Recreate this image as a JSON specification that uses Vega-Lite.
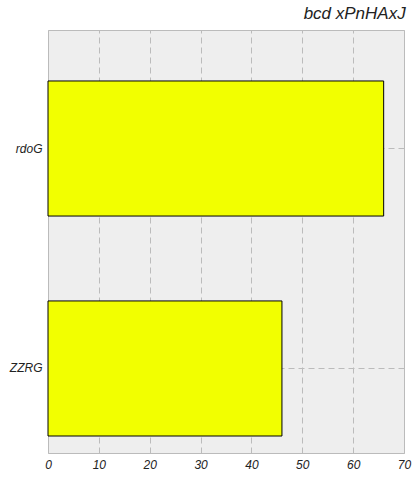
{
  "$schema": "https://vega.github.io/schema/vega-lite/v6.json",
  "width": 356,
  "height": 423,
  "autosize": "none",
  "padding": {"left": 48, "top": 30, "right": 16, "bottom": 27},
  "background": "white",
  "title": {
    "text": "bcd xPnHAxJ",
    "anchor": "end",
    "font": "Liberation Sans",
    "fontStyle": "italic",
    "fontWeight": "normal",
    "fontSize": 17,
    "color": "#222222",
    "offset": 7,
    "dx": -5
  },
  "config": {
    "view": {"fill": "#eeeeee", "stroke": "#bbbbbb", "strokeWidth": 1},
    "axis": {
      "labelFont": "Liberation Sans",
      "labelFontStyle": "italic",
      "labelFontSize": 12,
      "labelColor": "#222222",
      "ticks": false,
      "domain": false,
      "grid": true,
      "gridColor": "#bbbbbb",
      "gridDash": [6, 4],
      "gridWidth": 1,
      "title": null
    }
  },
  "data": {
    "values": [
      {"name": "rdoG", "value": 66},
      {"name": "ZZRG", "value": 46}
    ]
  },
  "mark": {"type": "bar", "color": "#f2ff00", "stroke": "#000000", "strokeWidth": 1},
  "encoding": {
    "x": {
      "field": "value",
      "type": "quantitative",
      "scale": {"domain": [0, 70], "nice": false, "zero": true},
      "axis": {"values": [0, 10, 20, 30, 40, 50, 60, 70], "labelPadding": 6, "labelFlush": false}
    },
    "y": {
      "field": "name",
      "type": "nominal",
      "scale": {"domain": ["rdoG", "ZZRG"], "paddingInner": 0.386, "paddingOuter": 0.1545, "align": 0.75},
      "axis": {"bandPosition": 0.5, "labelPadding": 6}
    }
  }
}
